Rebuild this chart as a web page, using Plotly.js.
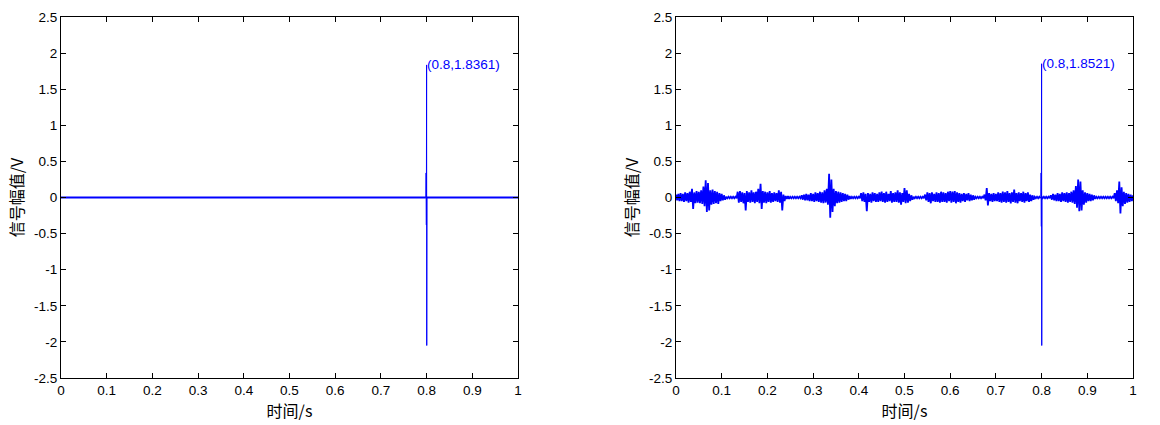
<!DOCTYPE html>
<html><head><meta charset="utf-8">
<script src="https://cdn.plot.ly/plotly-3.0.1.min.js"></script>
<style>html,body{margin:0;padding:0;background:#fff}#g{width:1160px;height:425px}</style>
</head><body><div id="g"></div>
<script>
// ---- data ----
const dt = 0.005;
// right panel: noise envelope (upper / lower magnitudes, V), one pair per 5 ms
const noiseUpper = [
0.04,0.05,0.06,0.05,0.07,0.06,0.08,0.12,0.07,0.09,
0.08,0.10,0.15,0.24,0.20,0.10,0.11,0.09,0.08,0.06,
0.05,0.03,0.01,0.01,0.01,0.01,0.01,0.08,0.09,0.07,
0.06,0.09,0.07,0.10,0.07,0.08,0.12,0.19,0.09,0.08,
0.07,0.09,0.06,0.07,0.06,0.10,0.08,0.04,0.02,0.02,
0.01,0.01,0.01,0.01,0.01,0.03,0.04,0.05,0.04,0.06,
0.05,0.07,0.06,0.08,0.07,0.10,0.12,0.33,0.25,0.12,
0.09,0.08,0.07,0.06,0.05,0.04,0.02,0.01,0.01,0.01,
0.01,0.06,0.07,0.05,0.06,0.05,0.07,0.06,0.05,0.07,
0.08,0.06,0.08,0.05,0.09,0.06,0.07,0.10,0.07,0.06,
0.13,0.10,0.05,0.03,0.01,0.01,0.01,0.01,0.01,0.04,
0.07,0.06,0.07,0.05,0.07,0.06,0.08,0.07,0.06,0.08,
0.09,0.08,0.09,0.07,0.06,0.05,0.06,0.05,0.06,0.04,
0.03,0.01,0.01,0.01,0.01,0.04,0.13,0.06,0.05,0.06,
0.05,0.07,0.06,0.08,0.07,0.09,0.06,0.07,0.11,0.06,
0.07,0.06,0.08,0.06,0.07,0.04,0.03,0.01,0.01,0.01,
0.01,0.01,0.01,0.01,0.03,0.05,0.04,0.06,0.05,0.07,
0.06,0.07,0.06,0.08,0.10,0.16,0.25,0.22,0.10,0.07,
0.06,0.05,0.04,0.03,0.01,0.01,0.01,0.01,0.01,0.01,
0.01,0.01,0.06,0.10,0.22,0.14,0.08,0.06,0.05,0.04,
0.03];
const noiseLower = [
0.04,0.05,0.05,0.06,0.05,0.07,0.06,0.16,0.08,0.07,
0.08,0.09,0.12,0.20,0.18,0.10,0.09,0.08,0.09,0.05,
0.04,0.03,0.01,0.01,0.01,0.01,0.01,0.07,0.06,0.08,
0.18,0.06,0.07,0.06,0.08,0.06,0.08,0.16,0.07,0.08,
0.06,0.07,0.06,0.05,0.06,0.07,0.18,0.05,0.02,0.02,
0.01,0.01,0.01,0.01,0.01,0.03,0.04,0.04,0.05,0.05,
0.06,0.05,0.06,0.07,0.08,0.07,0.10,0.28,0.20,0.12,
0.08,0.07,0.06,0.05,0.05,0.03,0.02,0.01,0.01,0.01,
0.01,0.05,0.06,0.19,0.06,0.07,0.05,0.06,0.06,0.05,
0.06,0.07,0.06,0.05,0.07,0.06,0.06,0.07,0.10,0.06,
0.08,0.07,0.05,0.03,0.01,0.01,0.01,0.01,0.01,0.04,
0.06,0.08,0.05,0.06,0.06,0.07,0.06,0.06,0.07,0.05,
0.07,0.06,0.08,0.06,0.07,0.05,0.06,0.04,0.05,0.04,
0.03,0.01,0.01,0.01,0.01,0.04,0.11,0.05,0.06,0.05,
0.05,0.06,0.07,0.06,0.07,0.06,0.08,0.06,0.07,0.08,
0.05,0.06,0.07,0.05,0.06,0.05,0.03,0.01,0.01,0.01,
0.01,0.01,0.01,0.01,0.03,0.04,0.05,0.05,0.06,0.05,
0.06,0.07,0.06,0.07,0.09,0.14,0.19,0.18,0.10,0.07,
0.05,0.05,0.04,0.02,0.01,0.01,0.01,0.01,0.01,0.01,
0.01,0.01,0.05,0.08,0.22,0.12,0.09,0.07,0.06,0.05,
0.03];
// pulse at 0.8 s
const rightSpikeT = [0.7985, 0.799, 0.7995, 0.8, 0.8003, 0.8008];
const rightSpikeV = [0.01, 0.34, -0.40, 1.8521, -2.05, 0.01];
const leftT = [0, 0.7985, 0.799, 0.7995, 0.8, 0.8003, 0.8008, 1];
const leftV = [0, 0, 0.34, -0.38, 1.8361, -2.05, 0, 0];
const peakLeft = {x: 0.8, y: 1.8361, label: '(0.8,1.8361)'};
const peakRight = {x: 0.8, y: 1.8521, label: '(0.8,1.8521)'};
const xTickVals = [0,0.1,0.2,0.3,0.4,0.5,0.6,0.7,0.8,0.9,1];
const xTickText = ['0','0.1','0.2','0.3','0.4','0.5','0.6','0.7','0.8','0.9','1'];
const yTickVals = [-2.5,-2,-1.5,-1,-0.5,0,0.5,1,1.5,2,2.5];
const yTickText = ['-2.5','-2','-1.5','-1','-0.5','0','0.5','1','1.5','2','2.5'];
const xTitle = '时间/s';
const yTitle = '信号幅值/V';

// ---- build right signal ----
let pts = [];
for (let i = 0; i < noiseUpper.length; i++) {
  const t = i * dt;
  pts.push([t, noiseUpper[i]]);
  if (t + dt/2 <= 1) pts.push([t + dt/2, -noiseLower[i]]);
}
const noiseA = pts.filter(p => p[0] < 0.7985);
const noiseB = pts.filter(p => p[0] > 0.8008);
const spike = rightSpikeT.map((t, k) => [t, rightSpikeV[k]]);
// thick noise traces, thin pulse trace, sharing endpoints
const nx = noiseA.map(p => p[0]).concat([null], [spike[spike.length-1][0]], noiseB.map(p => p[0]));
const ny = noiseA.map(p => p[1]).concat([null], [spike[spike.length-1][1]], noiseB.map(p => p[1]));
const sx = [noiseA[noiseA.length-1][0]].concat(spike.map(p => p[0]));
const sy = [noiseA[noiseA.length-1][1]].concat(spike.map(p => p[1]));

// left: baseline (thick) and pulse (thin)
const lbx = [leftT[0], leftT[1], null, leftT[leftT.length-2], leftT[leftT.length-1]];
const lby = [leftV[0], leftV[1], null, leftV[leftV.length-2], leftV[leftV.length-1]];

const FONT = '"Liberation Sans", Arial, "Noto Sans CJK SC", sans-serif';
const CJK = '"Noto Sans CJK SC", "Liberation Sans", sans-serif';
const blue = '#0000ff';

function xa(domain, anchor) {
  return {domain, anchor, range: [0, 1], tickvals: xTickVals, ticktext: xTickText,
    ticks: 'inside', ticklen: 5, tickcolor: '#000', showline: true, linecolor: '#000', linewidth: 1,
    mirror: 'ticks', showgrid: false, zeroline: false, tickfont: {family: FONT, size: 13.5, color: '#000'},
    title: {text: xTitle, font: {family: CJK, size: 16, color: '#000'}, standoff: 0}, fixedrange: true};
}
function ya(anchor) {
  return {domain: [1 - 378/425, 1 - 17/425], anchor, range: [-2.5, 2.5], tickvals: yTickVals, ticktext: yTickText,
    ticks: 'inside', ticklen: 5, tickcolor: '#000', showline: true, linecolor: '#000', linewidth: 1,
    mirror: 'ticks', showgrid: false, zeroline: false, tickfont: {family: FONT, size: 13.5, color: '#000'},
    title: {text: yTitle, font: {family: CJK, size: 16, color: '#000'}, standoff: 6}, fixedrange: true};
}

const data = [
  {x: lbx, y: lby, type: 'scatter', mode: 'lines', line: {color: blue, width: 2}, xaxis: 'x', yaxis: 'y', hoverinfo: 'skip'},
  {x: leftT.slice(1, -1), y: leftV.slice(1, -1), type: 'scatter', mode: 'lines', line: {color: blue, width: 1}, xaxis: 'x', yaxis: 'y', hoverinfo: 'skip'},
  {x: nx, y: ny, type: 'scatter', mode: 'lines', line: {color: blue, width: 1.8}, xaxis: 'x2', yaxis: 'y2', hoverinfo: 'skip', connectgaps: false},
  {x: sx, y: sy, type: 'scatter', mode: 'lines', line: {color: blue, width: 1}, xaxis: 'x2', yaxis: 'y2', hoverinfo: 'skip'}
];
const layout = {
  width: 1160, height: 425, showlegend: false,
  margin: {l: 0, r: 0, t: 0, b: 0},
  paper_bgcolor: '#fff', plot_bgcolor: '#fff',
  xaxis: xa([61/1160, 518/1160], 'y'),
  yaxis: ya('x'),
  xaxis2: xa([676/1160, 1133/1160], 'y2'),
  yaxis2: ya('x2'),
  annotations: [
    {xref: 'x', yref: 'y', x: peakLeft.x, y: peakLeft.y, text: peakLeft.label, showarrow: false,
     xanchor: 'left', yanchor: 'middle', xshift: -2, font: {family: FONT, size: 13.5, color: blue}},
    {xref: 'x2', yref: 'y2', x: peakRight.x, y: peakRight.y, text: peakRight.label, showarrow: false,
     xanchor: 'left', yanchor: 'middle', xshift: -2, font: {family: FONT, size: 13.5, color: blue}}
  ]
};
Plotly.newPlot('g', data, layout, {staticPlot: true, displayModeBar: false});
</script></body></html>
